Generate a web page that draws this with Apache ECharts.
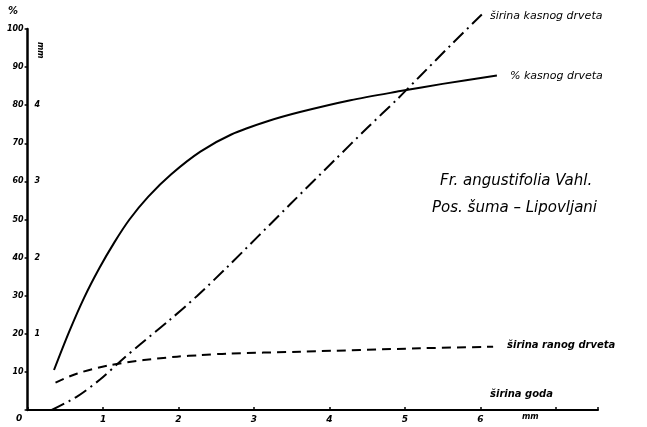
<!DOCTYPE html>
<html><head><meta charset="utf-8">
<script src="https://cdn.jsdelivr.net/npm/echarts@6/dist/echarts.min.js"></script>
<style>html,body{margin:0;padding:0;background:#fff}#c{width:647px;height:427px}</style>
</head><body><div id="c"></div>
<script>
// x: širina goda (mm)
var pctKasnog = [[0.35,10.5],[0.55,20.5],[0.75,29.5],[0.95,37.2],[1.15,44.0],[1.35,50.0],[1.60,56.0],[1.90,61.8],[2.29,67.8],[2.70,72.3],[3.20,75.9],[3.61,78.2],[4.28,81.3],[4.94,83.7],[5.50,85.6],[6.22,87.8]];
// mm
var sirinaKasnog = [[0.32,0],[0.66,0.18],[0.96,0.40],[1.23,0.64],[1.49,0.86],[1.87,1.17],[2.25,1.50],[2.64,1.87],[3.48,2.70],[4.08,3.29],[4.50,3.70],[4.90,4.08],[5.20,4.38],[5.62,4.80],[6.02,5.19]];
var sirinaRanog = [[0.37,0.36],[0.66,0.48],[1.10,0.59],[1.54,0.655],[1.98,0.70],[2.29,0.72],[2.64,0.74],[3.61,0.765],[5.20,0.81],[6.17,0.83]];
var xTicks = [1,2,3,4,5,6];
var pctTicks = [10,20,30,40,50,60,70,80,90,100];
var mmTicks = [1,2,3,4];

var F = '"DejaVu Sans", sans-serif';
var lab = {fontFamily:F, fontStyle:'italic', fontWeight:'bold', color:'#000'};
var chart = echarts.init(document.getElementById('c'));
chart.setOption({
  animation:false,
  backgroundColor:'#fff',
  grid:{left:27.6, right:647-598, top:29, bottom:17, containLabel:false},
  xAxis:{type:'value', min:0, max:7.56, interval:1,
    axisLine:{show:true, lineStyle:{color:'#000', width:2}},
    axisTick:{show:true, length:3, inside:true, lineStyle:{color:'#000', width:1.5}},
    splitLine:{show:false},
    axisLabel:Object.assign({fontSize:9, margin:5, formatter:function(v){return xTicks.indexOf(Math.round(v))>=0?String(v):'';}}, lab)},
  yAxis:[
    {type:'value', min:0, max:100, interval:10, position:'left',
     axisLine:{show:true, lineStyle:{color:'#000', width:2.5}},
     axisTick:{show:true, length:3, lineStyle:{color:'#000', width:1.5}},
     splitLine:{show:false},
     axisLabel:Object.assign({fontSize:8, margin:4, formatter:function(v){return pctTicks.indexOf(v)>=0?String(v):'';}}, lab)},
    {type:'value', min:0, max:5, interval:1, position:'left',
     axisLine:{show:false},
     axisTick:{show:false},
     splitLine:{show:false},
     axisLabel:Object.assign({fontSize:8, inside:true, margin:7, formatter:function(v){return mmTicks.indexOf(v)>=0?String(v):'';}}, lab)}
  ],
  series:[
    {type:'line', name:'% kasnog drveta', yAxisIndex:0, data:pctKasnog, smooth:0.3, showSymbol:false, clip:false,
     lineStyle:{color:'#000', width:2}},
    {type:'line', name:'širina kasnog drveta', yAxisIndex:1, data:sirinaKasnog, smooth:0.3, showSymbol:false, clip:false,
     lineStyle:{color:'#000', width:2, type:[14,5,2,5]}},
    {type:'line', name:'širina ranog drveta', yAxisIndex:1, data:sirinaRanog, smooth:0.3, showSymbol:false, clip:false,
     lineStyle:{color:'#000', width:2, type:[9,6]}}
  ],
  graphic:[
    {type:'text', left:8, top:6, style:{text:'%', fontSize:10, fontFamily:F, fontStyle:'italic', fontWeight:'bold', fill:'#000'}},
    {type:'text', x:16, y:414, style:{text:'0', fontSize:9, fontFamily:F, fontStyle:'italic', fontWeight:'bold', fill:'#000'}},
    {type:'text', x:44, y:42, rotation:-Math.PI/2, style:{text:'mm', fontSize:8, fontFamily:F, fontStyle:'italic', fontWeight:'bold', fill:'#000'}},
    {type:'text', x:490, y:11, style:{text:'širina kasnog drveta', fontSize:11, fontFamily:F, fontStyle:'italic', fill:'#000'}},
    {type:'text', x:510, y:71, style:{text:'% kasnog drveta', fontSize:11, fontFamily:F, fontStyle:'italic', fill:'#000'}},
    {type:'text', x:440, y:174, style:{text:'Fr. angustifolia Vahl.', fontSize:15, fontFamily:F, fontStyle:'italic', fill:'#000'}},
    {type:'text', x:432, y:201, style:{text:'Pos. šuma – Lipovljani', fontSize:15, fontFamily:F, fontStyle:'italic', fill:'#000'}},
    {type:'text', x:507, y:340, style:{text:'širina ranog drveta', fontSize:10, fontFamily:F, fontStyle:'italic', fontWeight:'bold', fill:'#000'}},
    {type:'text', x:490, y:389, style:{text:'širina goda', fontSize:10, fontFamily:F, fontStyle:'italic', fontWeight:'bold', fill:'#000'}},
    {type:'text', x:522, y:413, style:{text:'mm', fontSize:8, fontFamily:F, fontStyle:'italic', fontWeight:'bold', fill:'#000'}}
  ]
});
</script></body></html>
